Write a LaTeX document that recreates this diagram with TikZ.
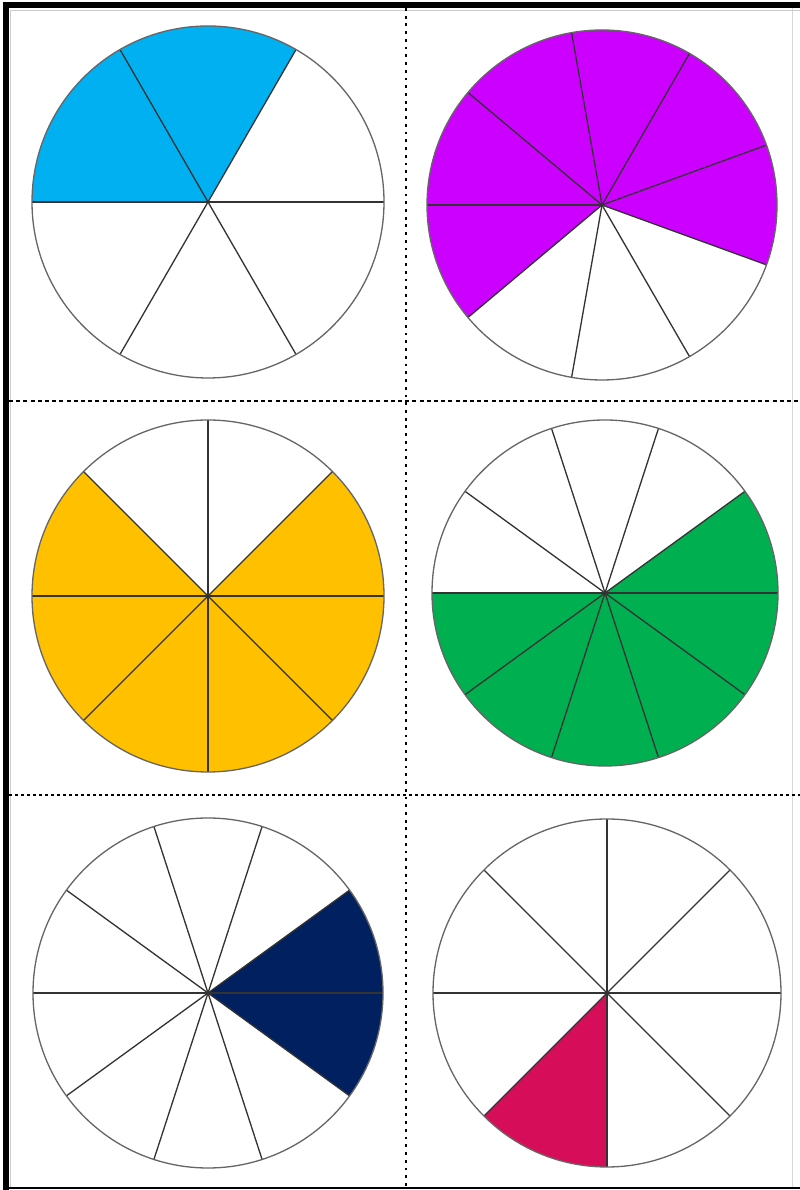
\documentclass[tikz,border=0pt]{standalone}
\definecolor{bleu}{RGB}{0,176,240}
\definecolor{violet}{RGB}{204,0,255}
\definecolor{jaune}{RGB}{255,192,0}
\definecolor{vert}{RGB}{0,176,80}
\definecolor{marine}{RGB}{0,32,96}
\definecolor{framboise}{RGB}{214,14,90}
\tikzset{
	rayon/.style={draw=black!80, line width=0.75pt},
	bord/.style={draw=black!60, line width=0.75pt},
	coupe/.style={black, line width=1.1pt, dash pattern=on 2.3pt off 1.8pt},
}
\begin{document}
\begin{tikzpicture}[x=0.02cm, y=0.02cm]
		\useasboundingbox (0,0) rectangle (800,1190);
		% cadre
		\draw[black, line width=3.6pt] (6,0) -- (6,1188);
		\draw[black, line width=3.4pt] (3,1185) -- (800,1185);
		\draw[black, line width=1.2pt] (3,2) -- (800,2);
		\draw[black!15, line width=0.5pt] (792,3) -- (792,1182);
		\draw[black!20, line width=0.4pt] (10,3) -- (10,1180) -- (800,1180);

		% lignes de coupe
		\draw[coupe, dash pattern=on 1.6pt off 2.8pt] (406,1182) -- (406,3);
		\draw[coupe] (9,789) -- (800,789);
		\draw[coupe, line width=1.7pt, dash pattern=on 1.7pt off 1.7pt] (9,395) -- (800,395);

		% disque 1 : 2/6
		\coordinate (c1) at (208,988);
		\fill[bleu] (c1) -- ++(60:176) arc[start angle=60, end angle=180, radius=176] -- cycle;
		\foreach \a in {0,60,...,300}
			\draw[rayon] (c1) -- ++(\a:176);
		\draw[bord] (c1) circle[radius=176];

		% disque 2 : 6/9
		\coordinate (c2) at (602,985);
		\fill[violet] (c2) -- ++(-20:175) arc[start angle=-20, end angle=220, radius=175] -- cycle;
		\foreach \a in {20,60,...,340}
			\draw[rayon] (c2) -- ++(\a:175);
		\draw[bord] (c2) circle[radius=175];

		% disque 3 : 6/8
		\coordinate (c3) at (208,594);
		\fill[jaune] (c3) -- ++(135:176) arc[start angle=135, end angle=405, radius=176] -- cycle;
		\foreach \a in {0,45,...,315}
			\draw[rayon] (c3) -- ++(\a:176);
		\draw[bord] (c3) circle[radius=176];

		% disque 4 : 6/10
		\coordinate (c4) at (605,597);
		\fill[vert] (c4) -- ++(180:173) arc[start angle=180, end angle=396, radius=173] -- cycle;
		\foreach \a in {0,36,...,324}
			\draw[rayon] (c4) -- ++(\a:173);
		\draw[bord] (c4) circle[radius=173];

		% disque 5 : 2/10
		\coordinate (c5) at (208,197);
		\fill[marine] (c5) -- ++(-36:175) arc[start angle=-36, end angle=36, radius=175] -- cycle;
		\foreach \a in {0,36,...,324}
			\draw[rayon] (c5) -- ++(\a:175);
		\draw[bord] (c5) circle[radius=175];

		% disque 6 : 1/8
		\coordinate (c6) at (607,197);
		\fill[framboise] (c6) -- ++(225:174) arc[start angle=225, end angle=270, radius=174] -- cycle;
		\foreach \a in {0,45,...,315}
			\draw[rayon] (c6) -- ++(\a:174);
		\draw[bord] (c6) circle[radius=174];
	\end{tikzpicture}
\end{document}
